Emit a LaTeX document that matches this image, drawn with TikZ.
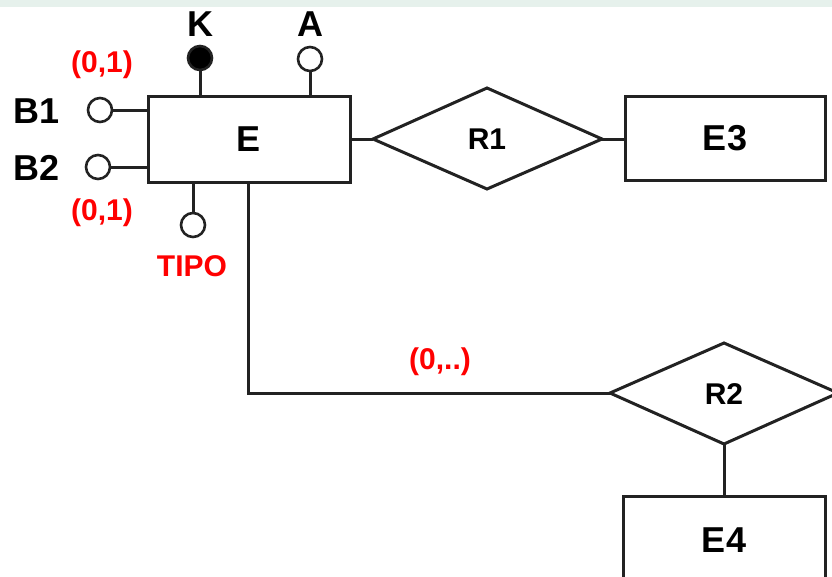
\documentclass[tikz,border=0pt]{standalone}
\usepackage{fontspec}
\setmainfont{Liberation Sans}
\usetikzlibrary{shapes.geometric}
\definecolor{ln}{HTML}{222222}
\definecolor{strip}{HTML}{E6F1EC}
\definecolor{red1}{HTML}{FF0000}
\tikzset{
  ent/.style={draw=ln, line width=3pt, rectangle, inner sep=0pt, font=\fontsize{36}{36}\selectfont\bfseries},
  attr/.style={draw=ln, line width=2.6pt, circle, minimum size=24pt, inner sep=0pt, fill=white},
  keyattr/.style={attr, fill=black},
  lab/.style={font=\fontsize{36}{36}\selectfont\bfseries, inner sep=0pt},
  rlab/.style={font=\fontsize{30}{30}\selectfont\bfseries, inner sep=0pt},
  card/.style={font=\fontsize{30}{30}\selectfont\bfseries, text=red1, inner sep=0pt},
  conn/.style={draw=ln, line width=3pt}
}
\begin{document}
\begin{tikzpicture}[x=1pt,y=-1pt]
\useasboundingbox (0,0) rectangle (832,576);
\clip (0,0) rectangle (832,576);
\fill[strip] (0,0) rectangle (832,7);
% entities
\node[ent, minimum width=202pt, minimum height=86pt] (E) at (249,139) {E};
\node[ent, minimum width=200pt, minimum height=84pt] (E3) at (725,138.5) {E3};
\node[ent, minimum width=202pt, minimum height=120pt, anchor=north] (E4) at (724,495) {};
\node[lab] (E4t) at (724,540) {E4};
% relationships
\coordinate (R1w) at (373,139);
\coordinate (R1e) at (602,139);
\coordinate (R1n) at (487,88);
\coordinate (R1s) at (487,189);
\draw[conn, line join=miter] (R1w) -- (R1n) -- (R1e) -- (R1s) -- cycle;
\node[rlab] (R1) at (487,139) {R1};
\coordinate (R2w) at (610,393);
\coordinate (R2e) at (838,393);
\coordinate (R2n) at (724,343);
\coordinate (R2s) at (724,444);
\draw[conn, line join=miter] (R2w) -- (R2n) -- (R2e) -- (R2s) -- cycle;
\node[rlab] (R2) at (724,394) {R2};
% attributes
\node[keyattr] (K) at (200,58) {};
\node[attr] (A) at (310,59) {};
\node[attr] (B1) at (100,110) {};
\node[attr] (B2) at (98,167) {};
\node[attr] (T) at (193,225) {};
\draw[conn] (K.south) -- (K.south |- E.north);
\draw[conn] (A.south) -- (A.south |- E.north);
\draw[conn] (B1.east) -- (B1.east -| E.west);
\draw[conn] (B2.east) -- (B2.east -| E.west);
\draw[conn] (T.north) -- (T.north |- E.south);
% attribute labels
\node[lab] (Kl) at (200,24) {K};
\node[lab] (Al) at (310,24) {A};
\node[lab] (B1l) at (37,111) {B1};
\node[lab] (B2l) at (37,168) {B2};
\node[card] (Tl) at (192,266) {TIPO};
\node[card] (c1) at (102,65) {(0,1)};
\node[card] (c2) at (102,213) {(0,1)};
\node[card] (c3) at (440,362) {(0,..)};
% connectors
\draw[conn] (E.east) -- (R1w);
\draw[conn] (R1e) -- (E3.west |- R1e);
\draw[conn] (E.south -| 248,0) -- (248,393) -- (R2w);
\draw[conn] (R2s) -- (E4.north);
\end{tikzpicture}
\end{document}
